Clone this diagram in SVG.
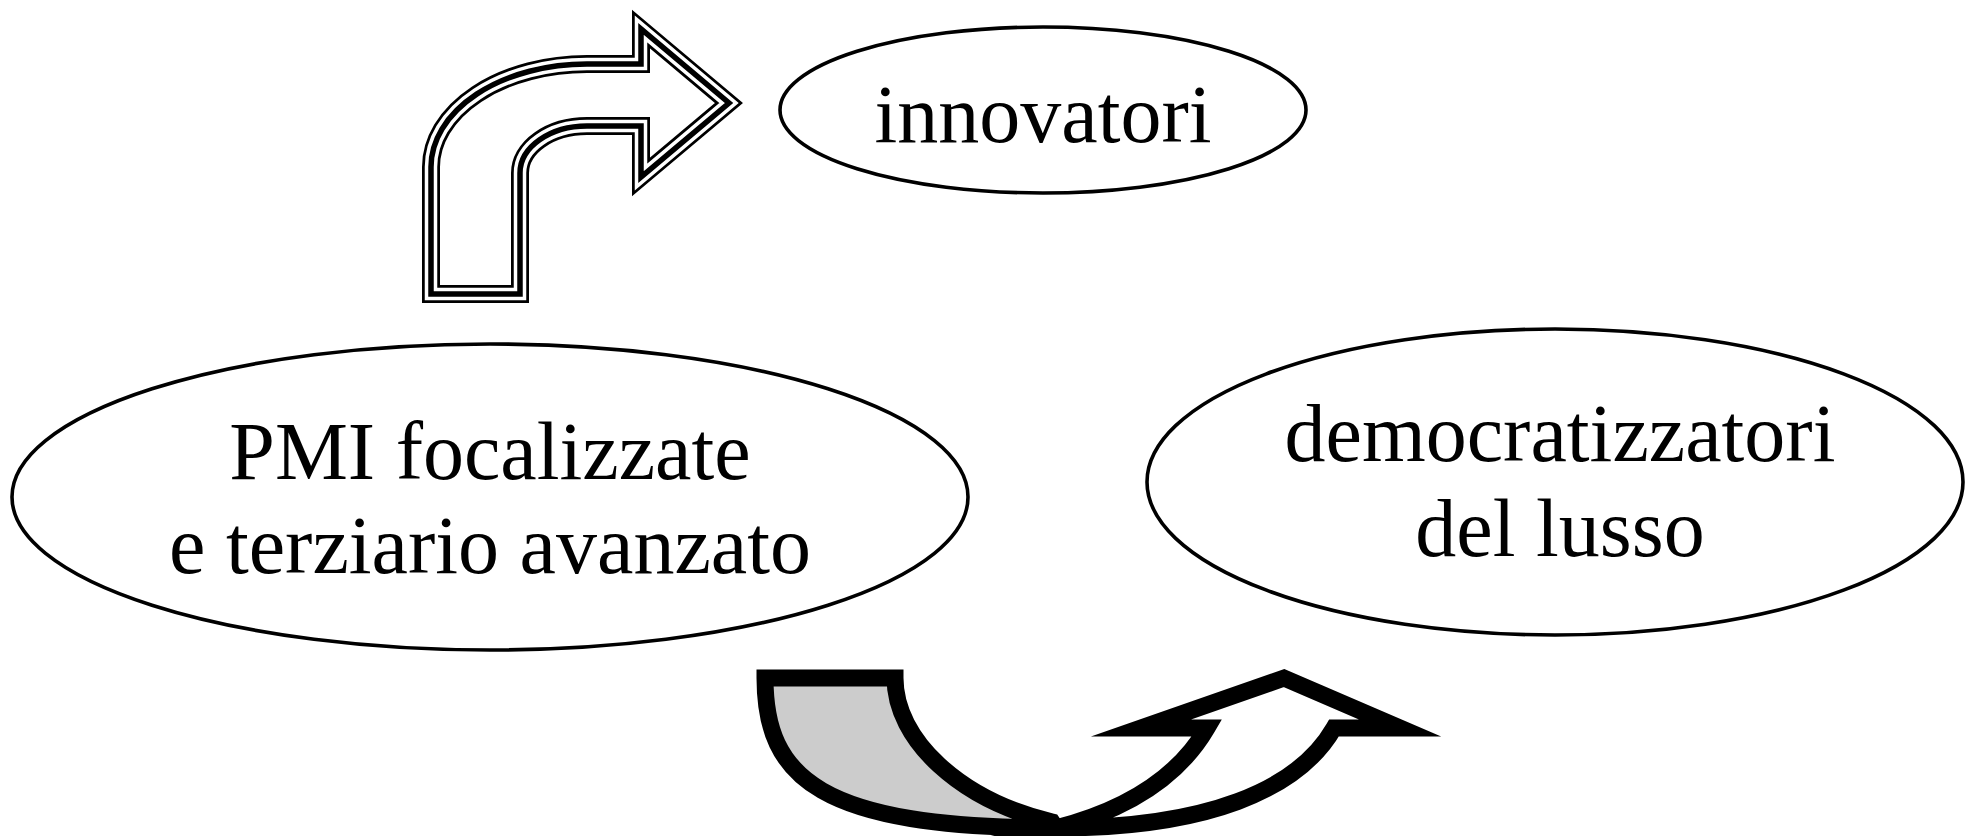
<svg xmlns="http://www.w3.org/2000/svg" xmlns:xlink="http://www.w3.org/1999/xlink" width="1966" height="836" viewBox="0 0 1966 836">
<style>
  .node ellipse { fill: #ffffff; stroke: #000000; stroke-width: 3.6; }
  .label { font-family: "Liberation Serif", "Times New Roman", serif; font-size: 82px; fill: #000000; text-anchor: middle; }
  .thick { stroke: #000000; stroke-width: 17; stroke-linejoin: miter; stroke-miterlimit: 10; }
</style>
<defs>
  <path id="bentArrow" d="M431,294 L431,167 A156,103 0 0 1 587,64 L641,64 L641,29 L729,103 L641,177 L641,126 L587,126 A67,47 0 0 0 520,173 L520,294 Z"/>
</defs>
<rect x="0" y="0" width="1966" height="836" fill="#ffffff"/>
<g id="connectors">
  <g id="arrow-bent">
    <use xlink:href="#bentArrow" fill="#ffffff" stroke="#000000" stroke-width="18" stroke-linejoin="miter"/>
    <use xlink:href="#bentArrow" fill="none" stroke="#ffffff" stroke-width="12.5" stroke-linejoin="miter"/>
    <use xlink:href="#bentArrow" fill="none" stroke="#000000" stroke-width="5.5" stroke-linejoin="miter"/>
  </g>
  <g id="arrow-curved">
    <path class="thick" fill="#cccccc" d="M765,678 L895,678 C895,740 960,800 1052,822 L1056,828 C820,828 765,778 765,678 Z"/>
    <path class="thick" fill="#ffffff" d="M1056,828 Q1165,800 1207,728 L1141,728 L1284,678 L1400,728 L1334,728 C1298,790.5 1206,828 1056,828 Z"/>
  </g>
</g>
<g id="node-innovatori" class="node">
  <ellipse cx="1043" cy="110" rx="263" ry="83"/>
  <text class="label" x="1043" y="142">innovatori</text>
</g>
<g id="node-pmi" class="node">
  <ellipse cx="490" cy="497" rx="478" ry="153"/>
  <text class="label" x="490" y="479">PMI focalizzate</text>
  <text class="label" x="490" y="573">e terziario avanzato</text>
</g>
<g id="node-democratizzatori" class="node">
  <ellipse cx="1555" cy="482" rx="408" ry="153"/>
  <text class="label" x="1560" y="461">democratizzatori</text>
  <text class="label" x="1560" y="556">del lusso</text>
</g>
</svg>
